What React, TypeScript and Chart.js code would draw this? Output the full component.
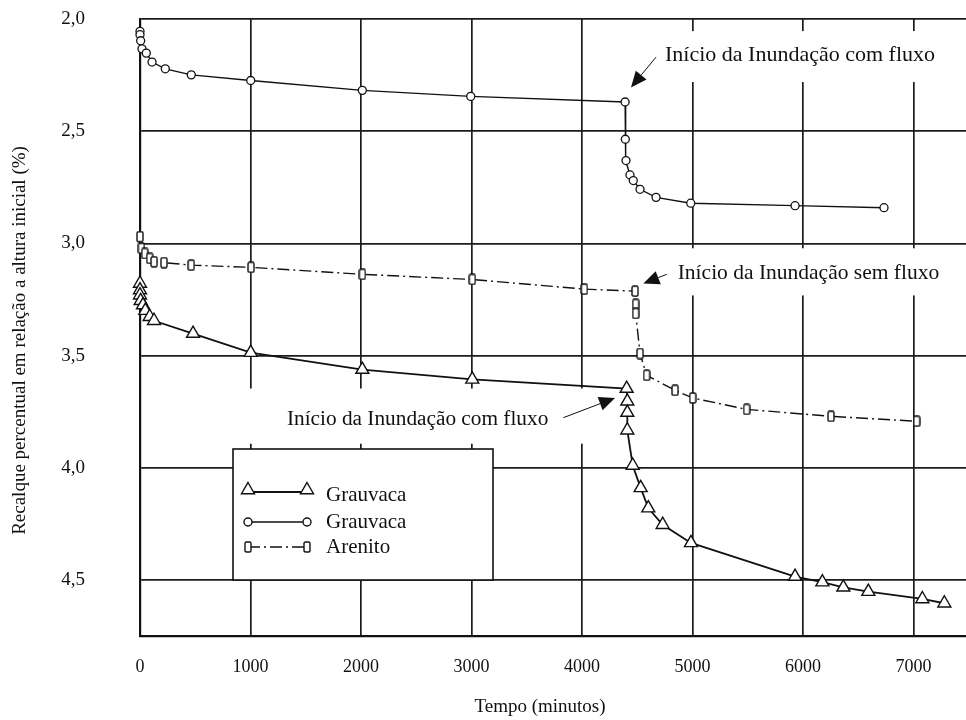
import { useEffect, useRef } from "react";
import { Chart, registerables } from "chart.js";

Chart.register(...registerables);

const SERIF = '"Liberation Serif", "Times New Roman", serif';
const INK = "#111";

// Eixos
const tempoTicks = [0, 1000, 2000, 3000, 4000, 5000, 6000, 7000];
const recalqueTicks = [2.0, 2.5, 3.0, 3.5, 4.0, 4.5];
const tempoMax = 7475;
const recalqueMax = 4.75;
const tituloX = "Tempo (minutos)";
const tituloY = "Recalque percentual em relação a altura inicial (%)";

// Grauvaca (triângulos): tempo (min) e recalque (%)
const grauvacaTriTempo = [0, 0, 0, 6, 27, 48, 88, 127, 480, 1002, 2012, 3007, 4404, 4410, 4410, 4410, 4459, 4531, 4600, 4730, 4986, 5928, 6175, 6365, 6591, 7080, 7279];
const grauvacaTriRecalque = [3.179, 3.208, 3.231, 3.256, 3.275, 3.3, 3.327, 3.345, 3.402, 3.487, 3.5625, 3.606, 3.647, 3.704, 3.754, 3.833, 3.99, 4.09, 4.18, 4.254, 4.335, 4.485, 4.51, 4.533, 4.552, 4.585, 4.604];

// Grauvaca (círculos)
const grauvacaCircTempo = [0, 0, 6, 18, 57, 109, 229, 464, 1002, 2012, 2993, 4390, 4392, 4398, 4434, 4464, 4525, 4670, 4984, 5928, 6733];
const grauvacaCircRecalque = [2.055, 2.07, 2.097, 2.133, 2.152, 2.192, 2.222, 2.249, 2.274, 2.318, 2.345, 2.37, 2.536, 2.631, 2.695, 2.72, 2.759, 2.795, 2.821, 2.832, 2.841];

// Arenito (retângulos)
const arenitoTempo = [0, 12, 43, 88, 127, 217, 463, 1005, 2012, 3007, 4021, 4480, 4486, 4486, 4525, 4585, 4842, 5002, 5490, 6253, 7029];
const arenitoRecalque = [2.97, 3.022, 3.045, 3.067, 3.082, 3.086, 3.097, 3.107, 3.138, 3.161, 3.204, 3.213, 3.272, 3.3125, 3.491, 3.588, 3.655, 3.689, 3.74, 3.771, 3.793];

const serieLabels = ["Grauvaca", "Grauvaca", "Arenito"];

// Anotações (em unidades dos eixos: [tempo, recalque])
type Nota = {
  texto: string;
  em: [number, number];
  alinhar: CanvasTextAlign;
  tamanho: number;
  de: [number, number];
  para: [number, number];
  fundo: [number, number, number, number];
};
const notas: Nota[] = [
  { texto: "Início da Inundação com fluxo", em: [4751, 2.163], alinhar: "left", tamanho: 22, de: [4670, 2.17], para: [4443, 2.305], fundo: [4525, tempoMax, 2.054, 2.281] },
  { texto: "Início da Inundação sem fluxo", em: [4866, 3.134], alinhar: "left", tamanho: 21.5, de: [4767, 3.138], para: [4555, 3.179], fundo: [4706, tempoMax, 3.022, 3.232] },
  { texto: "Início da Inundação com fluxo", em: [3695, 3.783], alinhar: "right", tamanho: 21.3, de: [3831, 3.777], para: [4299, 3.689], fundo: [905, 4090, 3.647, 3.893] },
];

const pares = (xs: number[], ys: number[]) => xs.map((x, i) => ({ x, y: ys[i] }));

function retanguloPonto(): HTMLCanvasElement {
  const c = document.createElement("canvas");
  c.width = 8;
  c.height = 12;
  const g = c.getContext("2d")!;
  const x = 1, y = 1, w = 6, h = 10, r = 1.5;
  g.beginPath();
  g.moveTo(x + r, y);
  g.lineTo(x + w - r, y);
  g.quadraticCurveTo(x + w, y, x + w, y + r);
  g.lineTo(x + w, y + h - r);
  g.quadraticCurveTo(x + w, y + h, x + w - r, y + h);
  g.lineTo(x + r, y + h);
  g.quadraticCurveTo(x, y + h, x, y + h - r);
  g.lineTo(x, y + r);
  g.quadraticCurveTo(x, y, x + r, y);
  g.closePath();
  g.fillStyle = "#fff";
  g.fill();
  g.strokeStyle = INK;
  g.lineWidth = 1.4;
  g.stroke();
  return c;
}

function marcador(ctx: CanvasRenderingContext2D, estilo: any, x: number, y: number, r: number) {
  ctx.save();
  ctx.fillStyle = "#fff";
  ctx.strokeStyle = INK;
  ctx.lineWidth = 1.4;
  ctx.setLineDash([]);
  if (estilo === "triangle") {
    ctx.beginPath();
    ctx.moveTo(x, y - r);
    ctx.lineTo(x + r * 0.866, y + r * 0.5);
    ctx.lineTo(x - r * 0.866, y + r * 0.5);
    ctx.closePath();
    ctx.fill();
    ctx.stroke();
  } else if (estilo === "circle") {
    ctx.beginPath();
    ctx.arc(x, y, r, 0, Math.PI * 2);
    ctx.fill();
    ctx.stroke();
  } else if (estilo instanceof HTMLCanvasElement) {
    ctx.drawImage(estilo, x - estilo.width / 2, y - estilo.height / 2);
  }
  ctx.restore();
}

function seta(ctx: CanvasRenderingContext2D, x0: number, y0: number, x1: number, y1: number) {
  const a = Math.atan2(y1 - y0, x1 - x0);
  const L = 16, W = 7;
  const bx = x1 - L * Math.cos(a), by = y1 - L * Math.sin(a);
  ctx.beginPath();
  ctx.moveTo(x0, y0);
  ctx.lineTo(bx, by);
  ctx.lineWidth = 1;
  ctx.strokeStyle = INK;
  ctx.stroke();
  ctx.beginPath();
  ctx.moveTo(x1, y1);
  ctx.lineTo(bx + W * Math.sin(a), by - W * Math.cos(a));
  ctx.lineTo(bx - W * Math.sin(a), by + W * Math.cos(a));
  ctx.closePath();
  ctx.fillStyle = INK;
  ctx.fill();
}

const notasPlugin = {
  id: "notas",
  beforeDatasetsDraw(chart: any) {
    const { ctx, scales } = chart;
    const sx = scales.x, sy = scales.y;
    ctx.save();
    ctx.fillStyle = "#fff";
    for (const n of notas) {
      const [t0, t1, v0, v1] = n.fundo;
      const x0 = sx.getPixelForValue(t0), x1 = sx.getPixelForValue(t1);
      const y0 = sy.getPixelForValue(v0), y1 = sy.getPixelForValue(v1);
      ctx.fillRect(x0, y0, x1 - x0, y1 - y0);
    }
    ctx.restore();
  },
  afterDatasetsDraw(chart: any) {
    const { ctx, scales, chartArea } = chart;
    const sx = scales.x, sy = scales.y;
    ctx.save();
    ctx.textBaseline = "middle";
    ctx.fillStyle = INK;
    for (const n of notas) {
      ctx.font = `${n.tamanho}px ${SERIF}`;
      ctx.textAlign = n.alinhar;
      ctx.fillText(n.texto, sx.getPixelForValue(n.em[0]), sy.getPixelForValue(n.em[1]));
      seta(ctx, sx.getPixelForValue(n.de[0]), sy.getPixelForValue(n.de[1]), sx.getPixelForValue(n.para[0]), sy.getPixelForValue(n.para[1]));
    }

    // Legenda dentro da área do gráfico
    const lx = chartArea.left + 93, ly = chartArea.top + 430, lw = 260, lh = 131;
    ctx.fillStyle = "#fff";
    ctx.fillRect(lx, ly, lw, lh);
    ctx.strokeStyle = INK;
    ctx.lineWidth = 1.6;
    ctx.strokeRect(lx, ly, lw, lh);
    const linhas = [43, 73, 98];
    const raios = [7.5, 4, 0];
    chart.data.datasets.forEach((ds: any, i: number) => {
      const yy = ly + linhas[i];
      const xa = lx + 15, xb = lx + 74;
      ctx.save();
      ctx.beginPath();
      ctx.setLineDash(ds.borderDash || []);
      ctx.lineWidth = ds.borderWidth;
      ctx.strokeStyle = INK;
      ctx.moveTo(xa, yy);
      ctx.lineTo(xb, yy);
      ctx.stroke();
      ctx.restore();
      const dy = ds.pointStyle === "triangle" ? -2 : 0;
      marcador(ctx, ds.pointStyle, xa, yy + dy, raios[i]);
      marcador(ctx, ds.pointStyle, xb, yy + dy, raios[i]);
      ctx.fillStyle = INK;
      ctx.textAlign = "left";
      ctx.textBaseline = "middle";
      ctx.font = `21px ${SERIF}`;
      ctx.fillText(ds.label, lx + 93, yy + (i === 0 ? 3 : 0));
    });

    // Títulos dos eixos
    ctx.font = `19px ${SERIF}`;
    ctx.textAlign = "center";
    ctx.textBaseline = "middle";
    ctx.fillText(tituloX, chartArea.left + 400, chartArea.bottom + 71);
    ctx.translate(chartArea.left - 120, (chartArea.top + chartArea.bottom) / 2 + 13);
    ctx.rotate(-Math.PI / 2);
    ctx.fillText(tituloY, 0, 0);
    ctx.restore();
  },
};

export default function App() {
  const ref = useRef<HTMLCanvasElement | null>(null);

  useEffect(() => {
    document.body.style.margin = "0";
    const canvas = ref.current!;
    const ret = retanguloPonto();
    const grid = { color: "#1c1c1c", lineWidth: 1.7, drawTicks: false };
    const border = { color: INK, width: 2.2 };

    const chart = new Chart(canvas, {
      type: "line",
      data: {
        datasets: [
          {
            label: serieLabels[0],
            data: pares(grauvacaTriTempo, grauvacaTriRecalque),
            borderColor: INK,
            borderWidth: 1.8,
            pointStyle: "triangle",
            pointRadius: 7.5,
            pointBackgroundColor: "#fff",
            pointBorderColor: INK,
            pointBorderWidth: 1.4,
            tension: 0,
            clip: false,
          },
          {
            label: serieLabels[1],
            data: pares(grauvacaCircTempo, grauvacaCircRecalque),
            borderColor: INK,
            borderWidth: 1.4,
            pointStyle: "circle",
            pointRadius: 4,
            pointBackgroundColor: "#fff",
            pointBorderColor: INK,
            pointBorderWidth: 1.3,
            tension: 0,
            clip: false,
          },
          {
            label: serieLabels[2],
            data: pares(arenitoTempo, arenitoRecalque),
            borderColor: INK,
            borderWidth: 1.4,
            borderDash: [12, 4, 2, 4],
            pointStyle: ret,
            pointRadius: 5,
            tension: 0,
            clip: false,
          },
        ] as any,
      },
      options: {
        responsive: false,
        animation: false,
        devicePixelRatio: 1,
        layout: { autoPadding: false, padding: { top: 19, right: 0, bottom: 0, left: 0 } },
        plugins: { legend: { display: false }, tooltip: { enabled: false } },
        scales: {
          x: {
            type: "linear",
            min: 0,
            max: tempoMax,
            afterBuildTicks: (ax: any) => {
              ax.ticks = tempoTicks.map((value) => ({ value }));
            },
            afterFit: (s: any) => {
              s.height = 84;
              s.paddingLeft = 0;
              s.paddingRight = 0;
            },
            grid,
            border,
            ticks: {
              color: INK,
              font: { family: SERIF, size: 18 },
              padding: 20,
              maxRotation: 0,
              callback: (v: any) => String(v),
            },
          },
          y: {
            type: "linear",
            reverse: true,
            min: recalqueTicks[0],
            max: recalqueMax,
            afterBuildTicks: (ax: any) => {
              ax.ticks = recalqueTicks.map((value) => ({ value }));
            },
            afterFit: (s: any) => {
              s.width = 140;
              s.paddingTop = 0;
              s.paddingBottom = 0;
            },
            grid,
            border,
            ticks: {
              color: INK,
              font: { family: SERIF, size: 19 },
              padding: 55,
              callback: (v: any) => Number(v).toFixed(1).replace(".", ","),
            },
          },
        },
      } as any,
      plugins: [notasPlugin],
    });
    return () => chart.destroy();
  }, []);

  return <canvas ref={ref} width={966} height={720} style={{ display: "block" }} />;
}
